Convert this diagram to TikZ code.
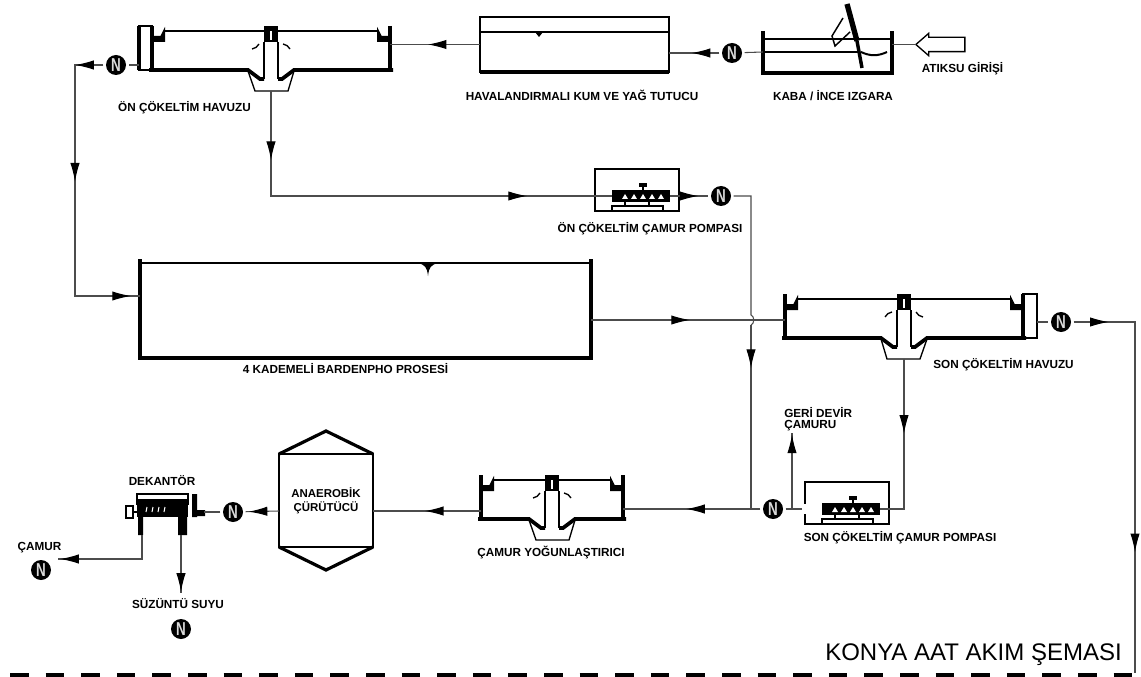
\documentclass[tikz,border=0pt]{standalone}
\usepackage{graphicx}
\usepackage{fontspec}
\setmainfont{Liberation Sans}
\usetikzlibrary{shapes,arrows.meta,decorations.markings,calc}

\newcommand{\pumpN}{\scalebox{.72}[1]{N}}

\tikzset{
  pics/clarifier/.style={code={
    \node[basin, minimum width={1.5pt*#1}, minimum height=33pt] (-box) at (0,-22) {};
    \coordinate (-s) at (0,21);
    % Walls, floor, scraper
    \foreach \s in {-1,1} {
      \draw[wall] ({\s*#1},-44) -- ({\s*#1},1);
      \draw[wall, line width=2.8pt] ({\s*(#1+3)},0) -- ({\s*23},0) -- ({\s*11},9) -- ({\s*7},9);
      \draw[skin] ({\s*7},-28) -- ({\s*7},9);
      \draw[skin, fill=black] ({\s*(#1-12)},-39) -- ({\s*(#1-12)},-29) -- ({\s*(#1-2)},-29) -- ({\s*(#1-2)},-33) -- ({\s*(#1-9)},-33) -- cycle;
      \draw[line width=1pt] ({\s*19},-21) to[bend right=25] ({\s*12},-26);
    }
    \draw[skin] ({-(#1-12)},-39) -- ({#1-12},-39);
    \draw[line width=1pt] (-23,1) -- (-16,21) -- (17,21) -- (23,1);
    \fill (-7,-44) rectangle (7,-28);
    \fill[white] (-1,-39) rectangle (1,-30);
  }},
  pics/pumpset/.style={code={
    \node[pumpbox] (-box) at (42,-6) {};
    \node[pumpbody] (-body) at (46,0) {};
    \foreach \k in {27,36,45,54,63}
      \fill[white] (\k,3) -- ({\k+3},-2) -- ({\k+6},3) -- cycle;
    \draw[line width=0.9pt] (17,15) rectangle (68,10);
    \draw[skin] (30,10) -- (30,5) (54,10) -- (54,5);
    \fill (44,-13) rectangle (52,-9);
    \draw[line width=1pt] (48,-10) -- (48,-5) (35,-5) -- (62,-5);
  }},
}

\begin{document}
\begin{tikzpicture}[
  x=0.75pt, y=-0.75pt,
  >=Stealth,
  basin/.style={inner sep=0pt, outer sep=0pt},
  wall/.style={line width=2.4pt},
  skin/.style={line width=1.5pt},
  pipe/.style={draw=black!70, line width=0.8pt},
  flow/.style={postaction={decorate, decoration={markings, mark=at position #1 with {\arrow{Latex[length=14pt,width=7pt,black]}}}}},
  pumpn/.style={circle, fill=black, text=white!85!black, inner sep=0pt, minimum size=15pt, outer sep=2pt, font=\fontsize{14}{14}\selectfont\bfseries},
  pumpbox/.style={draw, line width=1.3pt, inner sep=0pt, outer sep=0pt, minimum width=63pt, minimum height=31pt},
  pumpbody/.style={fill=black, inner sep=0pt, outer sep=0pt, minimum width=44pt, minimum height=8.5pt},
  lbl/.style={inner sep=0pt, font=\fontsize{8.8}{10}\selectfont\bfseries},
]
\useasboundingbox (0,0) rectangle (1141,677);

% Basins
\pic (onc) at (271,70) {clarifier=119};
\node[draw, line width=1.3pt, inner sep=0pt, outer sep=0pt, minimum width=9.75pt, minimum height=33pt] (oncs) at (145.5,48) {};
\draw[wall, line width=3pt] (oncs.north west) -- (oncs.south west);
\pic[xscale=-1] (son) at (904,338) {clarifier=119};
\node[draw, line width=1.3pt, inner sep=0pt, outer sep=0pt, minimum width=10.5pt, minimum height=33pt] (sons) at (1030,316) {};
\pic (cam) at (552,519) {clarifier=71};

\node[draw, line width=2pt, inner sep=0pt, outer sep=0pt, minimum width=141.75pt, minimum height=41.25pt] (grit) at (574.5,44.5) {};
\draw[wall] (grit.south west) -- (grit.south east);
\draw[line width=1.6pt] (481,32) -- (668,32);
\fill (535,32) -- (543,32) -- (539,37) -- cycle;

\node[basin, minimum width=96.75pt, minimum height=31.5pt] (izg) at (827.5,52) {};
\draw[wall] (izg.north west) -- (izg.south west) -- (izg.south east) -- (izg.north east);
\draw[line width=1.3pt] (763,39) -- (892,39) (763,52) -- (858,52);
\draw[line width=1.5pt] (861,52) to[bend right=25] (887,52);
\draw[line width=4pt] (847,4) -- (857,41);
\draw[line width=2.6pt] (857,41) -- (862,68);
\draw[line width=1.1pt] (843,18) -- (832,36) -- (835,46) -- (850,32);

\node[basin, minimum width=338.25pt, minimum height=74.25pt] (bar) at (365.5,308.5) {};
\draw[wall] (bar.north west) -- (bar.south west) -- (bar.south east) -- (bar.north east);
\draw[line width=1.8pt] (140,263) -- (591,263);
\fill (418,263) .. controls (425,265) and (427,267) .. (428,276) .. controls (429,267) and (431,265) .. (438,263) -- cycle;

\node[draw, line width=2pt, inner sep=0pt, outer sep=0pt, minimum width=70.5pt, minimum height=69.75pt, align=center, font=\fontsize{8.6}{10.5}\selectfont\bfseries] (dig) at (326,500.5) {ANAEROBİK\\ÇÜRÜTÜCÜ};
\draw[wall] (dig.north west) -- ([yshift=17.25pt]dig.north) -- (dig.north east);
\draw[wall] (dig.south west) -- ([yshift=-17.25pt]dig.south) -- (dig.south east);

% Pumps and decanter
\pic (pmpa) at (595,196) {pumpset};
\pic (pmpb) at (805,509) {pumpset};
\draw[white, line width=2pt] (805,504) -- (805,514);

\node[fill=black, inner sep=0pt, outer sep=0pt, minimum width=38.25pt, minimum height=13.5pt] (dek) at (162.5,507.5) {};
\draw[line width=1.5pt] (137,505) |- (188,494) -- (188,505);
\fill (138,510) rectangle (143,535) (178,510) rectangle (187,535);
\draw[line width=1.3pt] (126,506) rectangle (133,518);
\draw[line width=1.5pt] (133,512) -- (145,512);
\foreach \k in {146,152,158,164}
  \draw[white, line width=0.8pt] (\k,512) -- (\k+1,507);
\fill (192,494) rectangle (197,517) (197,510) rectangle (205,516);
\coordinate (dekp) at (204,512);
\coordinate (dekl) at (142,535);
\coordinate (dekr) at (181,535);

% Pump marks
\node[pumpn] (n1) at (116,65) {\pumpN};
\node[pumpn] (n2) at (732,53) {\pumpN};
\node[pumpn] (n3) at (721,196) {\pumpN};
\node[pumpn] (n4) at (773,509) {\pumpN};
\node[pumpn] (n5) at (1061,322) {\pumpN};
\node[pumpn] (n6) at (233,512) {\pumpN};
\node[pumpn] (n7) at (41,570) {\pumpN};
\node[pumpn] (n8) at (181,629) {\pumpN};

% Inlet
\node[draw, line width=1pt, single arrow, shape border rotate=180, single arrow head extend=3pt, single arrow tip angle=82, inner xsep=0pt, inner ysep=4.875pt, outer sep=0pt, minimum height=36.75pt, minimum width=15.75pt] (inl) at (944.5,44.5) {};

% Free ends
\coordinate (lefta) at (75,65);
\coordinate (leftb) at (75,296);
\coordinate (cross) at (751,320);
\coordinate (hopa) at (751,315);
\coordinate (hopb) at (751,325);
\coordinate (junc) at (751,509);
\coordinate (branch) at (792,509);
\coordinate (geri) at (792,433);
\coordinate (digy) at (0,511);
\coordinate (cmr) at (58,559);
\coordinate (suz) at (181,593);
\coordinate (outa) at (1135,322);
\coordinate (outb) at (1135,673);

% Connectors, upper line
\draw[pipe] (inl.tip) -- (izg.east |- inl.tip);
\draw[pipe] (izg.west) -- (n2);
\draw[pipe, flow=.55] (n2) -- (grit.east |- n2);
\draw[pipe, flow=.58] (grit.west) -- (onc-box.east |- grit.west);
\draw[pipe] (oncs.west |- n1) -- (n1);
\draw[pipe, flow=.087, flow=.447, flow=.972] (n1) -- (lefta) -- (leftb) -- (bar.west |- leftb);

% Primary sludge
\draw[pipe, flow=.155, flow=.81] (onc-s) |- (pmpa-body.west);
\draw[pipe, flow=.74] (pmpa-body.east) -- (n3);
\draw[pipe] (n3) -| (hopa) to[bend left=70] (hopb);
\draw[pipe, flow=.234] (hopb) -- (junc);

% Main line
\draw[pipe, flow=.51] (bar.east |- cross) -- (son-box.west |- cross);
\draw[pipe] (sons.east |- n5) -- (n5);
\draw[pipe, flow=.085, flow=.707] (n5) -- (outa) -- (outb);

% Return and waste sludge
\draw[pipe, flow=.43] (son-s) |- (pmpb-body.east);
\draw[pipe] (n4) -- ([xshift=-2.2pt]pmpb-box.west |- pmpb-body);
\draw[pipe, flow=.98] (branch) -- (geri);
\draw[pipe, flow=.54] (n4) -- (cam-box.east |- n4);
\draw[pipe, flow=.52] (cam-box.west |- digy) -- (dig.east |- digy);
\draw[pipe, flow=.91] (dig.west |- digy) -- (n6);
\draw[pipe] (n6) -- (dekp);
\draw[pipe, flow=.98] (dekl) |- (cmr);
\draw[pipe, flow=.98] (dekr) -- (suz);

% Labels
\node[lbl] (t1) at (184.5,108) {ÖN ÇÖKELTİM HAVUZU};
\node[lbl] (t2) at (582,95) {HAVALANDIRMALI KUM VE YAĞ TUTUCU};
\node[lbl] (t3) at (833,96) {KABA / İNCE IZGARA};
\node[lbl] (t4) at (962.5,69) {ATIKSU GİRİŞİ};
\node[lbl] (t5) at (650,229) {ÖN ÇÖKELTİM ÇAMUR POMPASI};
\node[lbl] (t6) at (345.5,369) {4 KADEMELİ BARDENPHO PROSESİ};
\node[lbl] (t7) at (1003.5,365) {SON ÇÖKELTİM HAVUZU};
\node[lbl, anchor=west] (t8) at (784,413) {GERİ DEVİR};
\node[lbl, anchor=west] (t9) at (784,426) {ÇAMURU};
\node[lbl] (t10) at (900,538) {SON ÇÖKELTİM ÇAMUR POMPASI};
\node[lbl] (t11) at (551,553) {ÇAMUR YOĞUNLAŞTIRICI};
\node[lbl] (t12) at (162,481) {DEKANTÖR};
\node[lbl] (t13) at (39.5,548) {ÇAMUR};
\node[lbl] (t14) at (178,604) {SÜZÜNTÜ SUYU};
\node[inner sep=0pt, font=\fontsize{18}{20}\selectfont] (title) at (973.5,655) {KONYA AAT AKIM ŞEMASI};

% Border
\draw[line width=3pt, dash pattern=on 13.9pt off 12.8pt] (10,675) -- (1133,675);
\end{tikzpicture}
\end{document}
